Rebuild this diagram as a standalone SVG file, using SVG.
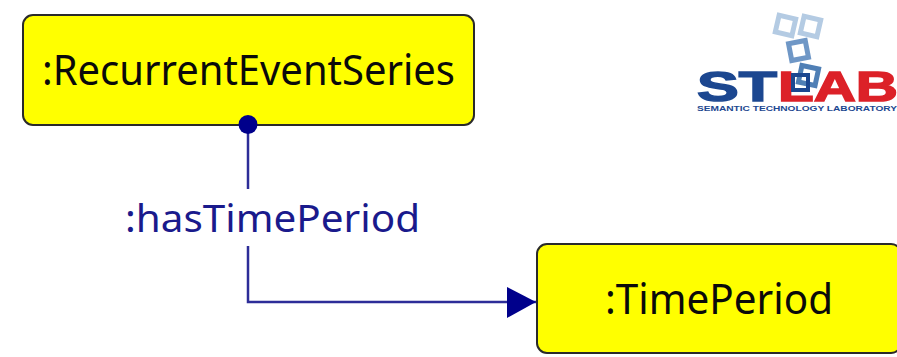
<svg xmlns="http://www.w3.org/2000/svg" width="897" height="357" viewBox="0 0 897 357">
<style>
.box{fill:#ffff00;stroke:#2a2a2a;stroke-width:2}
.lbl{font-family:"Noto Sans",sans-serif;font-size:41px;fill:#0a0a0a}
.prop{font-family:"Noto Sans",sans-serif;font-size:38px;fill:#1a1a8c}
.line{fill:none;stroke:#2d2d98;stroke-width:2.500}
.logo{font-family:"Liberation Sans",Arial,sans-serif;font-weight:bold}
.sq{fill:none;stroke-width:5}
</style>
<defs>
<marker id="arrow" markerUnits="userSpaceOnUse" markerWidth="30" markerHeight="32" refX="29" refY="15" orient="auto"><path d="M0 0L29 15L0 31Z" fill="#00008b"/></marker>
</defs>
<rect width="897" height="357" fill="#fff"/>
<g id="node-recurrent">
<rect class="box" x="23" y="15" width="451" height="110" rx="10"/>
<text class="lbl" x="42" y="85" textLength="413" lengthAdjust="spacingAndGlyphs">:RecurrentEventSeries</text>
</g>
<g id="node-timeperiod">
<rect class="box" x="537" y="244" width="364" height="109" rx="10"/>
<text class="lbl" x="605" y="314" textLength="228" lengthAdjust="spacingAndGlyphs">:TimePeriod</text>
</g>
<g id="connectors">
<path class="line" d="M248 124V189"/>
<path class="line" d="M248 246V302H536" marker-end="url(#arrow)"/>
<circle cx="248" cy="124.500" r="9.500" fill="#00008b"/>
<text class="prop" x="125" y="232" textLength="295" lengthAdjust="spacingAndGlyphs">:hasTimePeriod</text>
</g>
<g id="logo">
<g class="sq">
<rect x="777" y="17" width="17" height="17" transform="rotate(13 785.500 25.500)" stroke="#b4cbe3"/>
<rect x="802" y="18" width="17" height="17" transform="rotate(13 810.500 26.500)" stroke="#b4cbe3"/>
<rect x="790" y="42" width="17" height="17" transform="rotate(-11 798.500 50.500)" stroke="#6f97c6"/>
<rect x="800" y="67" width="17" height="17" transform="rotate(12 808.500 75.500)" stroke="#4f7fb5"/>
</g>
<text class="logo" x="697" y="101" font-size="43" fill="#1c4790" stroke="#1c4790" stroke-width="1.500" textLength="80" lengthAdjust="spacingAndGlyphs">ST</text>
<text class="logo" x="778" y="101" font-size="43" fill="#dc2128" stroke="#dc2128" stroke-width="1.500" textLength="120" lengthAdjust="spacingAndGlyphs">LAB</text>
<rect x="793" y="75" width="15" height="15" fill="none" stroke="#1c4790" stroke-width="4"/>
<text class="logo" x="697" y="111" font-size="7.500" fill="#1c4790" textLength="200" lengthAdjust="spacingAndGlyphs">SEMANTIC TECHNOLOGY LABORATORY</text>
</g>
</svg>
